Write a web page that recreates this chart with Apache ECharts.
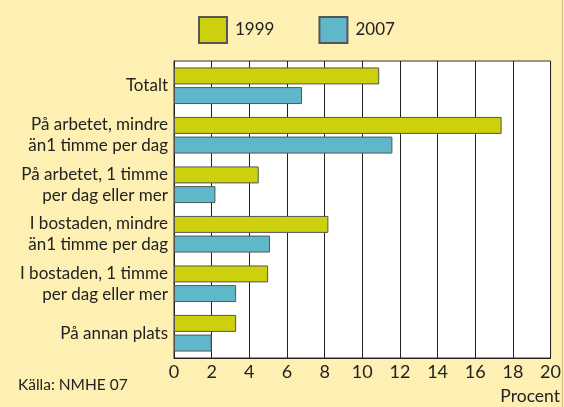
<!DOCTYPE html>
<html>
<head>
<meta charset="utf-8">
<script src="https://cdn.jsdelivr.net/npm/echarts@6/dist/echarts.min.js"></script>
<style>
  html, body { margin: 0; padding: 0; background: #fdf0b2; }
  #chart { width: 564px; height: 407px; }
</style>
</head>
<body>
<div id="chart"></div>
<script>
const categories = [
  "Totalt",
  "På arbetet, mindre\nän1 timme per dag",
  "På arbetet, 1 timme\nper dag eller mer",
  "I bostaden, mindre\nän1 timme per dag",
  "I bostaden, 1 timme\nper dag eller mer",
  "På annan plats"
];
const values1999 = [10.9, 17.4, 4.5, 8.2, 5.0, 3.3];
const values2007 = [6.8, 11.6, 2.2, 5.1, 3.3, 2.0];

const FONT = "Lato, 'DejaVu Sans', sans-serif";
const chart = echarts.init(document.getElementById("chart"));

const option = {
  backgroundColor: "#fdf0b2",
  textStyle: { fontFamily: FONT, color: "#222" },
  legend: {
    top: 11,
    left: 193,
    icon: "rect",
    itemWidth: 28,
    itemHeight: 26,
    itemGap: 44,
    textStyle: { fontSize: 17, color: "#222", fontFamily: FONT, padding: [0, 0, 0, 3] },
    data: ["1999", "2007"]
  },
  grid: {
    left: 174,
    right: 13,
    top: 61,
    bottom: 49,
    show: true,
    backgroundColor: "#ffffff",
    borderColor: "#333",
    borderWidth: 1
  },
  xAxis: {
    type: "value",
    min: 0,
    max: 20,
    interval: 2,
    axisLine: { show: true, lineStyle: { color: "#222" } },
    axisTick: { show: false },
    splitLine: { show: true, lineStyle: { color: "#222", width: 1 } },
    axisLabel: { fontSize: 18, color: "#222", margin: 5, fontFamily: FONT }
  },
  yAxis: {
    type: "category",
    inverse: true,
    data: categories,
    axisLine: { show: true, lineStyle: { color: "#222" } },
    axisTick: { show: false },
    axisLabel: {
      fontSize: 17,
      lineHeight: 21,
      color: "#222",
      margin: 6,
      fontFamily: FONT
    }
  },
  series: [
    {
      name: "1999",
      type: "bar",
      data: values1999,
      barGap: "16%",
      barCategoryGap: "26%",
      itemStyle: { color: "#cdd10d", borderColor: "#555", borderWidth: 1 }
    },
    {
      name: "2007",
      type: "bar",
      data: values2007,
      itemStyle: { color: "#5eb8ca", borderColor: "#555", borderWidth: 1 }
    }
  ],
  graphic: [
    {
      type: "text",
      left: 18,
      top: 377,
      style: { text: "Källa: NMHE 07", fontSize: 15.5, fill: "#222", fontFamily: FONT }
    },
    {
      type: "text",
      right: 4,
      top: 387,
      style: { text: "Procent", fontSize: 17.5, fill: "#222", fontFamily: FONT }
    },
    {
      type: "rect",
      right: 1,
      top: 0,
      shape: { width: 1, height: 407 },
      style: { fill: "#c8bd86" }
    }
  ],
  animation: false
};

chart.setOption(option);
</script>
</body>
</html>
